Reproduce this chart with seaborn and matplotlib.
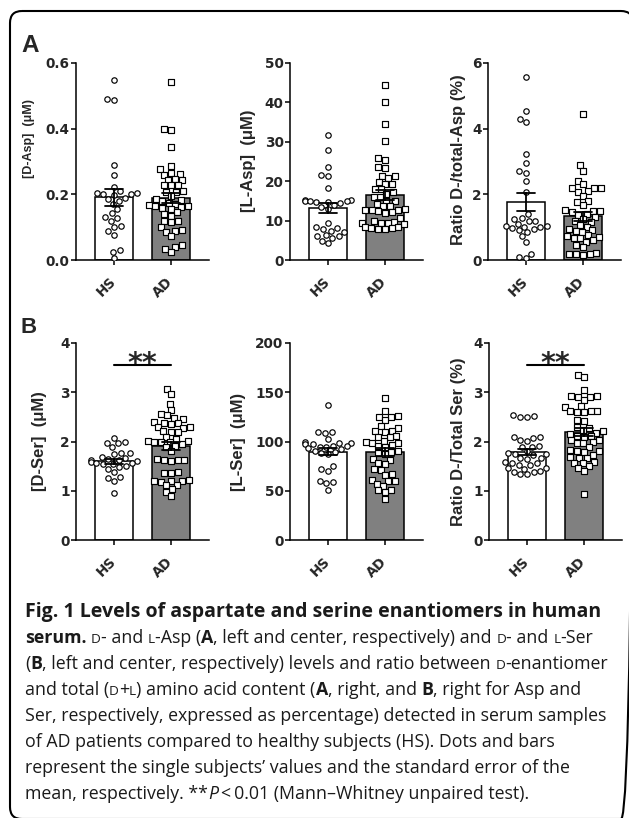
import re
import numpy as np
import pandas as pd
import matplotlib
matplotlib.use('Agg')
import matplotlib.pyplot as plt
from matplotlib.patches import FancyBboxPatch
from matplotlib.transforms import ScaledTranslation
import seaborn as sns

#%% data ###############################################################
groups = ['HS', 'AD']
bar_colors = {'HS': 'white', 'AD': '#808080'}

# A, left: [D-Asp] (uM)
dasp_hs = [0.547, 0.49, 0.488, 0.29, 0.26, 0.222, 0.21, 0.205, 0.205, 0.20, 0.20, 0.198, 0.19, 0.185,
           0.18, 0.17, 0.155, 0.142, 0.13, 0.128, 0.118, 0.103, 0.10, 0.087, 0.077, 0.03, 0.025, 0.005]
dasp_ad = [0.541, 0.40, 0.397, 0.344, 0.285, 0.277, 0.265, 0.262, 0.26, 0.248, 0.245, 0.243, 0.229,
           0.228, 0.227, 0.21, 0.208, 0.207, 0.195, 0.185, 0.182, 0.18, 0.175, 0.17, 0.168, 0.165,
           0.163, 0.16, 0.158, 0.155, 0.145, 0.14, 0.135, 0.12, 0.118, 0.115, 0.10, 0.09, 0.088,
           0.085, 0.072, 0.045, 0.04, 0.035, 0.025]
# A, center: [L-Asp] (uM)
lasp_hs = [31.6, 28.0, 23.6, 21.5, 21.3, 18.2, 15.3, 15.2, 15.1, 15.0, 15.0, 14.8, 14.6, 14.5, 14.0,
           13.5, 13.0, 9.4, 8.5, 8.0, 7.8, 7.3, 7.0, 6.3, 6.2, 6.0, 5.6, 4.9, 4.2]
lasp_ad = [44.3, 40.1, 34.6, 30.3, 25.8, 25.3, 23.7, 23.3, 21.4, 21.2, 20.8, 19.9, 19.3, 19.3, 18.0,
           18.0, 17.2, 16.8, 15.9, 15.9, 15.1, 14.9, 14.2, 13.8, 13.6, 12.9, 12.8, 12.8, 12.7, 12.5,
           12.2, 12.0, 10.6, 9.8, 9.6, 9.5, 9.4, 9.3, 9.2, 8.5, 8.3, 8.2, 8.0, 7.9, 7.8]
# A, right: ratio D/total Asp (%)
rasp_hs = [5.57, 4.54, 4.28, 4.2, 3.23, 2.95, 2.7, 2.65, 2.42, 2.06, 1.4, 1.27, 1.25, 1.2, 1.18, 1.1,
           1.05, 1.03, 1.02, 1.0, 0.98, 0.93, 0.9, 0.84, 0.72, 0.56, 0.18, 0.08, 0.05]
rasp_ad = [4.44, 2.88, 2.7, 2.42, 2.3, 2.2, 2.19, 2.18, 2.1, 2.08, 1.96, 1.8, 1.77, 1.68, 1.52, 1.5,
           1.49, 1.47, 1.4, 1.38, 1.3, 1.25, 1.2, 1.15, 1.07, 1.0, 0.95, 0.9, 0.88, 0.85, 0.75, 0.72,
           0.7, 0.68, 0.66, 0.6, 0.56, 0.45, 0.39, 0.2, 0.18, 0.17, 0.17, 0.16]
# B, left: [D-Ser] (uM)
dser_hs = [2.07, 1.98, 1.97, 1.96, 1.88, 1.77, 1.76, 1.75, 1.69, 1.66, 1.64, 1.63, 1.62, 1.6, 1.58,
           1.57, 1.56, 1.55, 1.54, 1.5, 1.48, 1.45, 1.39, 1.27, 1.26, 1.19, 0.95]
dser_ad = [3.06, 2.96, 2.77, 2.64, 2.55, 2.53, 2.48, 2.46, 2.4, 2.38, 2.37, 2.36, 2.3, 2.29, 2.28,
           2.21, 2.2, 2.19, 2.09, 2.05, 2.02, 2.01, 2.0, 1.99, 1.98, 1.95, 1.9, 1.89, 1.8, 1.64, 1.63,
           1.63, 1.62, 1.61, 1.38, 1.37, 1.36, 1.21, 1.2, 1.2, 1.19, 1.18, 1.12, 1.11, 1.03, 0.98, 0.9]
# B, center: [L-Ser] (uM)
lser_hs = [137.5, 110, 109.5, 109, 103, 99, 98.5, 98, 97.5, 97, 95.5, 95, 94.5, 94, 93, 92, 90, 89,
           88, 87.5, 75, 72, 70, 60, 58.5, 57.5, 51]
lser_ad = [144.3, 130.7, 126, 124.7, 124.5, 122, 115.5, 113.9, 111, 110.5, 110, 106, 104.7, 104.5,
           101, 100, 98.6, 98.5, 96, 95, 94.5, 90, 89.5, 88, 87, 82, 81.5, 78, 77.5, 72, 71.5, 67.5,
           66, 61, 60, 59.5, 57, 55, 51, 50.5, 48.6, 41.9]
# B, right: ratio D/total Ser (%)
rser_hs = [2.53, 2.52, 2.5, 2.5, 2.1, 2.09, 2.08, 2.04, 2.02, 1.9, 1.89, 1.88, 1.8, 1.76, 1.75, 1.74,
           1.73, 1.67, 1.66, 1.65, 1.58, 1.57, 1.56, 1.53, 1.52, 1.47, 1.46, 1.45, 1.4, 1.39, 1.38,
           1.34, 1.33]
rser_ad = [3.36, 3.31, 3.04, 2.93, 2.93, 2.91, 2.9, 2.85, 2.72, 2.7, 2.62, 2.61, 2.61, 2.6, 2.6, 2.44,
           2.42, 2.29, 2.27, 2.23, 2.21, 2.18, 2.16, 2.12, 2.11, 2.1, 2.04, 2.03, 1.98, 1.97, 1.96,
           1.88, 1.82, 1.8, 1.8, 1.79, 1.72, 1.68, 1.67, 1.66, 1.58, 1.57, 1.56, 1.5, 1.46, 1.41, 0.94]

ylabels = ['[D-Asp]  (\u03bcM)', '[L-Asp]  (\u03bcM)', 'Ratio D-/total-Asp (%)',
           '[D-Ser]  (\u03bcM)', '[L-Ser]  (\u03bcM)', 'Ratio D-/Total Ser (%)']
yticks = [[0.0, 0.2, 0.4, 0.6], [0, 10, 20, 30, 40, 50], [0, 2, 4, 6],
          [0, 1, 2, 3, 4], [0, 50, 100, 150, 200], [0, 1, 2, 3, 4]]
yticklabels = [['0.0', '0.2', '0.4', '0.6'], ['0', '10', '20', '30', '40', '50'], ['0', '2', '4', '6'],
               ['0', '1', '2', '3', '4'], ['0', '50', '100', '150', '200'], ['0', '1', '2', '3', '4']]
sig_level = [None, None, None, 3.55, None, 3.55]   # '**' bar height
sig_text = '**'

caption = [
    '<h>Fig. 1 Levels of aspartate and serine enantiomers in human</h>',
    '<b>serum.</b> <sc>D</sc>- and <sc>L</sc>-Asp (<b>A</b>, left and center, respectively) and <sc>D</sc>- and <sc>L</sc>-Ser',
    '(<b>B</b>, left and center, respectively) levels and ratio between <sc>D</sc>-enantiomer',
    'and total (<sc>D</sc>+<sc>L</sc>) amino acid content (<b>A</b>, right, and <b>B</b>, right for Asp and',
    'Ser, respectively, expressed as percentage) detected in serum samples',
    'of AD patients compared to healthy subjects (HS). Dots and bars',
    'represent the single subjects\u2019 values and the standard error of the',
    'mean, respectively. **<i>P</i>\u2009<\u20090.01 (Mann\u2013Whitney unpaired test).',
]

#%% layout (pixels of the 629x818 picture) #############################
W, H = 629, 818
sns.set_style('ticks')
plt.rcParams['font.family'] = ['Liberation Sans', 'DejaVu Sans']

fig = plt.figure(figsize=(W / 100, H / 100), dpi=100)
bg = fig.add_axes([0, 0, 1, 1])
bg.set_xlim(0, W)
bg.set_ylim(H, 0)
bg.axis('off')
bg.add_patch(FancyBboxPatch((10, 11), 623, 808, boxstyle='round,pad=0,rounding_size=12',
                            fill=False, ec='black', lw=1.5))

ax_w, ax_h = 133, 197
ax_pos = [(76, 63), (290, 63), (488, 63), (76, 343), (290, 343), (489, 343)]
ylab_pos = [(29, 139, 9), (249, 161, 12), (459, 160, 12), (40, 441, 12), (239, 442, 12), (459, 442, 12)]
data = [(dasp_hs, dasp_ad), (lasp_hs, lasp_ad), (rasp_hs, rasp_ad),
        (dser_hs, dser_ad), (lser_hs, lser_ad), (rser_hs, rser_ad)]
tickfont = dict(family='DejaVu Sans', fontweight='bold', fontsize=9.8)
shift = ScaledTranslation(4 / 100, 0, fig.dpi_scale_trans)

for i in range(6):
    left, top = ax_pos[i]
    ax = fig.add_axes([left / W, 1 - (top + ax_h) / H, ax_w / W, ax_h / H])
    ax.set_facecolor('none')
    hs, ad = data[i]
    df = pd.DataFrame({'group': ['HS'] * len(hs) + ['AD'] * len(ad), 'value': list(hs) + list(ad)})

    sns.barplot(data=df, x='group', y='value', hue='group', order=groups, hue_order=groups,
                palette=bar_colors, width=0.67, errorbar='se', capsize=0.32, edgecolor='black',
                linewidth=1.1, err_kws={'color': 'black', 'linewidth': 1.3}, legend=False, ax=ax)
    errlines = list(ax.lines)
    sns.swarmplot(data=df[df.group == 'HS'], x='group', y='value', order=groups, marker='o', size=3.9,
                  color='white', edgecolor='black', linewidth=0.85, ax=ax, zorder=3)
    sns.swarmplot(data=df[df.group == 'AD'], x='group', y='value', order=groups, marker='s', size=3.8,
                  color='white', edgecolor='black', linewidth=0.85, ax=ax, zorder=3)
    for l in errlines:
        l.set_zorder(5)

    ax.set_xlim(-0.67, 1.67)
    ax.set_ylim(yticks[i][0], yticks[i][-1])
    ax.set_yticks(yticks[i], yticklabels[i], **tickfont)
    ax.set_xticks([0, 1], groups, rotation=45, ha='right', va='center', rotation_mode='anchor', **tickfont)
    for lab in ax.get_xticklabels():
        lab.set_transform(lab.get_transform() + shift)
    ax.tick_params(axis='both', length=3.6, width=1.1, color='black')
    ax.tick_params(axis='y', pad=1)
    ax.tick_params(axis='x', pad=10.5)
    for s in ['left', 'bottom']:
        ax.spines[s].set_linewidth(1.1)
        ax.spines[s].set_color('black')
    sns.despine(ax=ax)
    ax.set_xlabel('')

    lx, ly, lsize = ylab_pos[i]
    ax.set_ylabel(ylabels[i], fontsize=lsize, fontweight='bold', family='Liberation Sans')
    ax.yaxis.set_label_coords((lx - left) / ax_w, (top + ax_h - ly) / ax_h)
    ax.yaxis.label.set_va('center')

    if sig_level[i] is not None:
        ax.plot([0, 1], [sig_level[i]] * 2, color='black', lw=1.5, clip_on=False, zorder=6)
        ax.text(0.5, sig_level[i] - 0.14, sig_text, ha='center', va='baseline',
                fontsize=20.5, fontweight='bold', family='DejaVu Sans')

bg.text(21, 52, 'A', fontsize=17.5, fontweight='bold', family='Liberation Sans', va='baseline')
bg.text(21, 333, 'B', fontsize=16, fontweight='bold', family='Liberation Sans', va='baseline')

#%% caption with mixed styles ##########################################
cap_font = ['Open Sans', 'DejaVu Sans']
cap_size = 12.75
ink = '#1a1a1a'
styles = {'r': dict(family=cap_font, fontsize=cap_size, color=ink),
          'b': dict(family=cap_font, fontsize=cap_size, fontweight='bold', color=ink),
          'h': dict(family=cap_font, fontsize=cap_size * 1.1, fontweight='bold', color=ink),
          'i': dict(family=cap_font, fontsize=cap_size, style='italic', color=ink),
          'sc': dict(family=cap_font, fontsize=cap_size * 0.76, color=ink)}
renderer = fig.canvas.get_renderer()


def advance(s, props):
    t1 = bg.text(0, 0, '|' + s + '|', **props)
    t2 = bg.text(0, 0, '||', **props)
    w = t1.get_window_extent(renderer).width - t2.get_window_extent(renderer).width
    t1.remove()
    t2.remove()
    return w


def pieces(line):
    out, pos = [], 0
    for m in re.finditer(r'<(b|h|i|sc)>(.*?)</\1>', line):
        if m.start() > pos:
            out.append(('r', line[pos:m.start()]))
        out.append((m.group(1), m.group(2)))
        pos = m.end()
    if pos < len(line):
        out.append(('r', line[pos:]))
    return out


for k, line in enumerate(caption):
    x = 25
    y = 617 + 26 * k
    for st, s in pieces(line):
        bg.text(x, y, s, ha='left', va='baseline', **styles[st])
        x += advance(s, styles[st])

fig.savefig('out.png', dpi=100)
